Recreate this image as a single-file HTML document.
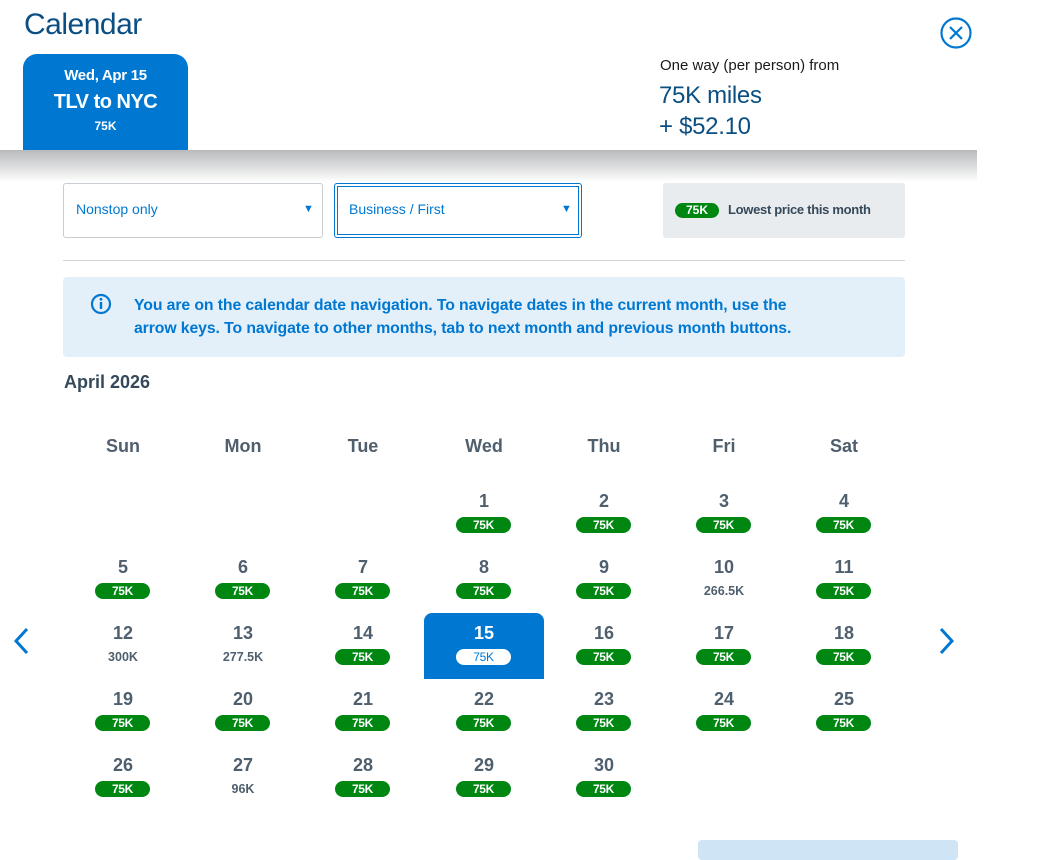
<!DOCTYPE html>
<html><head><meta charset="utf-8"><style>
*{margin:0;padding:0;box-sizing:border-box}
body{width:1043px;height:849px;background:#fff;font-family:"Liberation Sans",sans-serif;position:relative;overflow:hidden;color:#36495a}
.a{position:absolute}
.cell{position:absolute;width:120px;height:66px;text-align:center}
.n{position:absolute;top:10px;left:0;width:120px;font-size:18px;color:#4f5f6e;line-height:20px;font-weight:bold}
.p{position:absolute;top:36px;left:32px;width:55px;height:16px;border-radius:8px;background:#008712;color:#fff;font-size:12px;font-weight:bold;line-height:16px;letter-spacing:-0.3px}
.t{position:absolute;top:36px;left:0;width:120px;font-size:12.5px;font-weight:bold;color:#4f5f6e;line-height:16px}
.sel{background:#0078d2;border-radius:8px 8px 0 0}
.sel .n{color:#fff}
.sel .p{background:#fff;color:#0078d2;font-weight:normal}
.dow{position:absolute;top:436px;width:120px;text-align:center;font-size:18px;color:#4f5f6e;font-weight:bold}
</style></head><body>
<div class="a" style="left:24px;top:8px;font-size:30px;color:#0b4f82;font-weight:300;letter-spacing:-0.5px">Calendar</div>
<svg class="a" style="left:939px;top:16px" width="34" height="34"><circle cx="17" cy="17" r="14.5" fill="none" stroke="#0078d2" stroke-width="2.2"/><path d="M11 11L23 23M23 11L11 23" stroke="#0078d2" stroke-width="2.2"/></svg>
<div class="a" style="left:23px;top:54px;width:165px;height:98px;background:#0078d2;border-radius:14px 14px 0 0;color:#fff;text-align:center">
<div style="margin-top:13px;font-size:15px;font-weight:bold;letter-spacing:-0.3px">Wed, Apr 15</div>
<div style="margin-top:7px;font-size:20px;font-weight:bold;letter-spacing:-0.5px">TLV to NYC</div>
<div style="margin-top:5px;font-size:12px;font-weight:bold">75K</div></div>
<div class="a" style="left:660px;top:57px;font-size:15px;color:#1a1a1a">One way (per person) from</div>
<div class="a" style="left:659px;top:82px;font-size:24px;color:#0b4f82;letter-spacing:-0.3px">75K miles</div>
<div class="a" style="left:659px;top:113px;font-size:24px;color:#0b4f82;letter-spacing:-0.3px">+ $52.10</div>
<div class="a" style="left:0;top:150px;width:977px;height:32px;background:linear-gradient(#b8babc,#fff)"></div>
<div class="a" style="left:63px;top:183px;width:260px;height:55px;border:1px solid #c7cdd2;border-radius:3px"></div>
<div class="a" style="left:76px;top:201px;font-size:14px;color:#0078d2">Nonstop only</div>
<div class="a" style="left:303px;top:203px;font-size:11px;color:#0078d2">▼</div>
<div class="a" style="left:334px;top:183px;width:248px;height:55px;border:1px solid #0078d2;border-radius:3px"><div style="position:absolute;left:2px;top:2px;right:2px;bottom:2px;border:1px solid #0078d2"></div></div>
<div class="a" style="left:349px;top:201px;font-size:14px;color:#0078d2">Business / First</div>
<div class="a" style="left:561px;top:203px;font-size:11px;color:#0078d2">▼</div>
<div class="a" style="left:663px;top:183px;width:242px;height:55px;background:#e9ecee;border-radius:3px"></div>
<div class="a" style="left:675px;top:203px;width:44px;height:15px;border-radius:8px;background:#008712;color:#fff;font-size:12px;font-weight:bold;text-align:center;line-height:15px">75K</div>
<div class="a" style="left:728px;top:202px;font-size:13px;font-weight:bold;color:#36495a;letter-spacing:-0.3px">Lowest price this month</div>
<div class="a" style="left:63px;top:260px;width:842px;height:1px;background:#d0d5d9"></div>
<div class="a" style="left:63px;top:277px;width:842px;height:80px;background:#e3eff9;border-radius:4px"></div>
<svg class="a" style="left:90px;top:293px" width="22" height="22"><circle cx="11" cy="11" r="9" fill="none" stroke="#0078d2" stroke-width="2.2"/><rect x="9.8" y="9" width="2.4" height="7" fill="#0078d2"/><circle cx="11" cy="6.3" r="1.4" fill="#0078d2"/></svg>
<div class="a" style="left:134px;top:294px;font-size:15.8px;font-weight:bold;color:#0078d2;line-height:23px;letter-spacing:-0.1px">You are on the calendar date navigation. To navigate dates in the current month, use the<br>arrow keys. To navigate to other months, tab to next month and previous month buttons.</div>
<div class="a" style="left:64px;top:372px;font-size:18px;font-weight:bold;color:#36495a">April 2026</div>
<div class="dow" style="left:63px">Sun</div><div class="dow" style="left:183px">Mon</div><div class="dow" style="left:303px">Tue</div><div class="dow" style="left:424px">Wed</div><div class="dow" style="left:544px">Thu</div><div class="dow" style="left:664px">Fri</div><div class="dow" style="left:784px">Sat</div>
<svg class="a" style="left:12px;top:627px" width="20" height="28"><path d="M15 2L4 14L15 26" fill="none" stroke="#0078d2" stroke-width="3"/></svg>
<svg class="a" style="left:936px;top:627px" width="20" height="28"><path d="M5 2L16 14L5 26" fill="none" stroke="#0078d2" stroke-width="3"/></svg>

<div class="cell" style="left:424px;top:481px"><div class="n">1</div><div class="p">75K</div></div>
<div class="cell" style="left:544px;top:481px"><div class="n">2</div><div class="p">75K</div></div>
<div class="cell" style="left:664px;top:481px"><div class="n">3</div><div class="p">75K</div></div>
<div class="cell" style="left:784px;top:481px"><div class="n">4</div><div class="p">75K</div></div>

<div class="cell" style="left:63px;top:547px"><div class="n">5</div><div class="p">75K</div></div>
<div class="cell" style="left:183px;top:547px"><div class="n">6</div><div class="p">75K</div></div>
<div class="cell" style="left:303px;top:547px"><div class="n">7</div><div class="p">75K</div></div>
<div class="cell" style="left:424px;top:547px"><div class="n">8</div><div class="p">75K</div></div>
<div class="cell" style="left:544px;top:547px"><div class="n">9</div><div class="p">75K</div></div>
<div class="cell" style="left:664px;top:547px"><div class="n">10</div><div class="t">266.5K</div></div>
<div class="cell" style="left:784px;top:547px"><div class="n">11</div><div class="p">75K</div></div>

<div class="cell" style="left:63px;top:613px"><div class="n">12</div><div class="t">300K</div></div>
<div class="cell" style="left:183px;top:613px"><div class="n">13</div><div class="t">277.5K</div></div>
<div class="cell" style="left:303px;top:613px"><div class="n">14</div><div class="p">75K</div></div>
<div class="cell sel" style="left:424px;top:613px"><div class="n">15</div><div class="p">75K</div></div>
<div class="cell" style="left:544px;top:613px"><div class="n">16</div><div class="p">75K</div></div>
<div class="cell" style="left:664px;top:613px"><div class="n">17</div><div class="p">75K</div></div>
<div class="cell" style="left:784px;top:613px"><div class="n">18</div><div class="p">75K</div></div>

<div class="cell" style="left:63px;top:679px"><div class="n">19</div><div class="p">75K</div></div>
<div class="cell" style="left:183px;top:679px"><div class="n">20</div><div class="p">75K</div></div>
<div class="cell" style="left:303px;top:679px"><div class="n">21</div><div class="p">75K</div></div>
<div class="cell" style="left:424px;top:679px"><div class="n">22</div><div class="p">75K</div></div>
<div class="cell" style="left:544px;top:679px"><div class="n">23</div><div class="p">75K</div></div>
<div class="cell" style="left:664px;top:679px"><div class="n">24</div><div class="p">75K</div></div>
<div class="cell" style="left:784px;top:679px"><div class="n">25</div><div class="p">75K</div></div>

<div class="cell" style="left:63px;top:745px"><div class="n">26</div><div class="p">75K</div></div>
<div class="cell" style="left:183px;top:745px"><div class="n">27</div><div class="t">96K</div></div>
<div class="cell" style="left:303px;top:745px"><div class="n">28</div><div class="p">75K</div></div>
<div class="cell" style="left:424px;top:745px"><div class="n">29</div><div class="p">75K</div></div>
<div class="cell" style="left:544px;top:745px"><div class="n">30</div><div class="p">75K</div></div>

<div class="a" style="left:698px;top:840px;width:260px;height:20px;background:#cfe4f5;border-radius:4px"></div>
</body></html>
